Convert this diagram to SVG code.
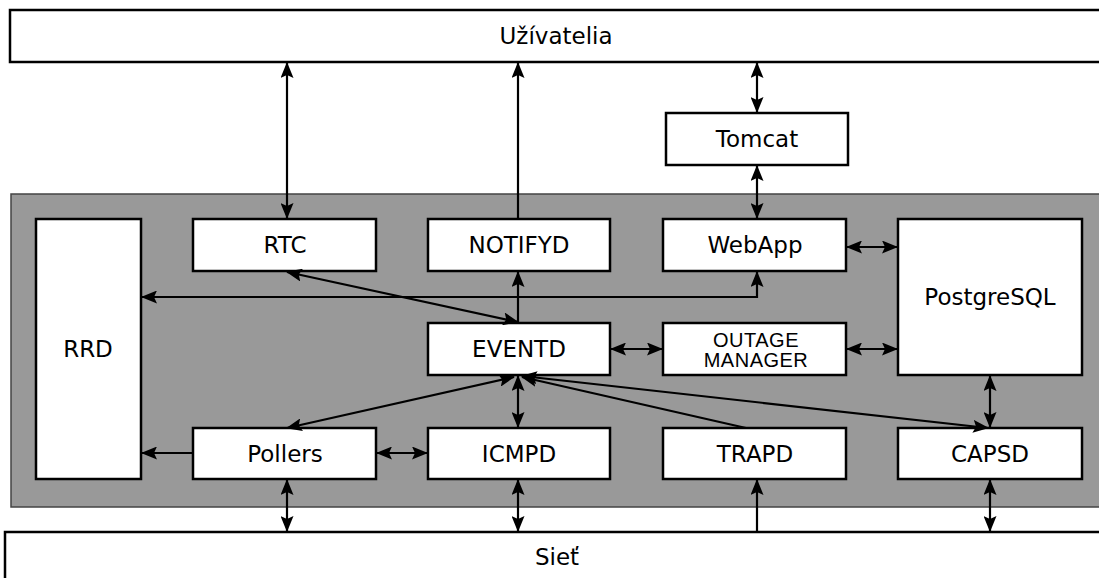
<svg xmlns="http://www.w3.org/2000/svg" width="1099" height="578" viewBox="0 0 1099 578">
<style>
.box{fill:#fff;stroke:#000;stroke-width:2.5}
.t{font-family:"DejaVu Sans",sans-serif;font-size:23px;fill:#000;text-anchor:middle;dominant-baseline:central}
.s{font-family:"Liberation Sans",Arial,sans-serif;font-size:20px;letter-spacing:0.5px;fill:#000;text-anchor:middle}
.c{fill:none;stroke:#000;stroke-width:2.2}
</style>
<defs>
<marker id="a" markerUnits="userSpaceOnUse" markerWidth="16" markerHeight="13" refX="15" refY="6.5" orient="auto-start-reverse">
<path d="M0,0 L16,6.5 L0,13 L3,6.5 z" fill="#000"/>
</marker>
</defs>
<rect width="1099" height="578" fill="#fff"/>
<rect id="panel" x="11" y="194" width="1090" height="313" fill="#999" stroke="#444" stroke-width="1.5"/>
<g id="uzivatelia"><rect class="box" x="10" y="10" width="1100" height="52"/><text class="t" x="556" y="36">Užívatelia</text></g>
<g id="siet"><rect class="box" x="5" y="532" width="1110" height="60"/><text class="t" x="557" y="557">Sieť</text></g>
<g id="tomcat"><rect class="box" x="666" y="113" width="182" height="52"/><text class="t" x="757" y="139">Tomcat</text></g>
<g id="rrd"><rect class="box" x="36" y="219" width="105" height="260"/><text class="t" x="88" y="349">RRD</text></g>
<g id="rtc"><rect class="box" x="193" y="219" width="183" height="52"/><text class="t" x="285" y="245">RTC</text></g>
<g id="notifyd"><rect class="box" x="428" y="219" width="182" height="52"/><text class="t" x="519" y="245">NOTIFYD</text></g>
<g id="webapp"><rect class="box" x="663" y="219" width="183" height="52"/><text class="t" x="755" y="245">WebApp</text></g>
<g id="postgresql"><rect class="box" x="898" y="219" width="184" height="156"/><text class="t" x="990" y="297">PostgreSQL</text></g>
<g id="eventd"><rect class="box" x="428" y="323" width="182" height="52"/><text class="t" x="519" y="349">EVENTD</text></g>
<g id="outage"><rect class="box" x="663" y="323" width="183" height="52"/><text class="s" x="756" y="347">OUTAGE</text><text class="s" x="756" y="367">MANAGER</text></g>
<g id="pollers"><rect class="box" x="193" y="428" width="183" height="51"/><text class="t" x="285" y="454">Pollers</text></g>
<g id="icmpd"><rect class="box" x="428" y="428" width="182" height="51"/><text class="t" x="519" y="454">ICMPD</text></g>
<g id="trapd"><rect class="box" x="663" y="428" width="183" height="51"/><text class="t" x="755" y="454">TRAPD</text></g>
<g id="capsd"><rect class="box" x="898" y="428" width="184" height="51"/><text class="t" x="990" y="454">CAPSD</text></g>
<g id="connectors">
<line class="c" x1="757" y1="63" x2="757" y2="112" marker-start="url(#a)" marker-end="url(#a)"/>
<line class="c" x1="757" y1="166" x2="757" y2="218" marker-start="url(#a)" marker-end="url(#a)"/>
<line class="c" x1="287" y1="63" x2="287" y2="218" marker-start="url(#a)" marker-end="url(#a)"/>
<line class="c" x1="518" y1="219" x2="518" y2="63" marker-end="url(#a)"/>
<line class="c" x1="518" y1="323" x2="518" y2="272" marker-end="url(#a)"/>
<polyline class="c" points="142,297 757,297 757,272" marker-start="url(#a)" marker-end="url(#a)"/>
<line class="c" x1="287" y1="272" x2="518" y2="322" marker-start="url(#a)" marker-end="url(#a)"/>
<line class="c" x1="611" y1="349" x2="662" y2="349" marker-start="url(#a)" marker-end="url(#a)"/>
<line class="c" x1="847" y1="247" x2="897" y2="247" marker-start="url(#a)" marker-end="url(#a)"/>
<line class="c" x1="847" y1="349" x2="897" y2="349" marker-start="url(#a)" marker-end="url(#a)"/>
<line class="c" x1="518" y1="376" x2="518" y2="427" marker-start="url(#a)" marker-end="url(#a)"/>
<line class="c" x1="514" y1="377" x2="287" y2="428" marker-start="url(#a)" marker-end="url(#a)"/>
<line class="c" x1="746" y1="428" x2="522" y2="377" marker-end="url(#a)"/>
<line class="c" x1="522" y1="376" x2="988" y2="428" marker-start="url(#a)" marker-end="url(#a)"/>
<line class="c" x1="990" y1="376" x2="990" y2="427" marker-start="url(#a)" marker-end="url(#a)"/>
<line class="c" x1="193" y1="453" x2="142" y2="453" marker-end="url(#a)"/>
<line class="c" x1="377" y1="453" x2="427" y2="453" marker-start="url(#a)" marker-end="url(#a)"/>
<line class="c" x1="287" y1="480" x2="287" y2="531" marker-start="url(#a)" marker-end="url(#a)"/>
<line class="c" x1="518" y1="480" x2="518" y2="531" marker-start="url(#a)" marker-end="url(#a)"/>
<line class="c" x1="757" y1="532" x2="757" y2="480" marker-end="url(#a)"/>
<line class="c" x1="990" y1="480" x2="990" y2="531" marker-start="url(#a)" marker-end="url(#a)"/>
</g>
</svg>
